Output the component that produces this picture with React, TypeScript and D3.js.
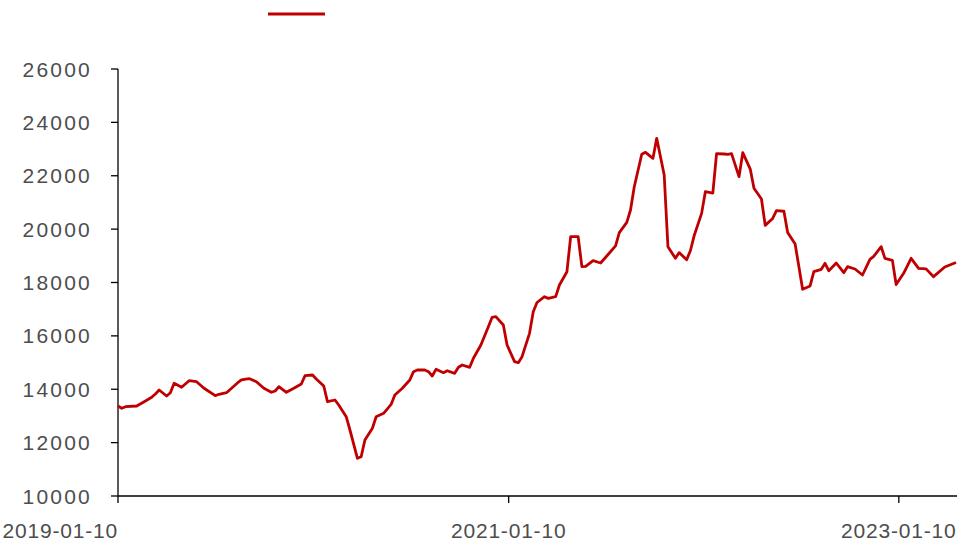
import React from "react";
import * as d3 from "d3";

const startDate = "2019-01-10";
const weekIdx = [
  0, 1, 2, 5, 7, 9, 10, 11, 13, 14, 15, 17, 19, 21, 23, 26, 27, 29, 32, 33, 35, 37, 39, 41, 42, 43, 45, 47, 49, 50,
  52, 53, 55, 56, 58, 59, 61, 62, 64, 65, 66, 68, 69, 71, 73, 74, 76, 78, 79, 80, 82, 83, 84, 85, 87, 88, 90, 91, 92, 94,
  95, 97, 99, 100, 101, 103, 104, 106, 107, 108, 110, 111, 112, 114, 115, 117, 118, 120, 121, 123, 124, 125, 127, 129, 131, 133, 134, 136, 137, 138,
  140, 141, 143, 144, 146, 147, 149, 150, 152, 153, 154, 156, 157, 159, 160, 162, 163, 164, 166, 167, 169, 170, 172, 173, 175, 176, 178, 179, 181, 183,
  185, 186, 188, 189, 190, 192, 194, 195, 197, 199, 201, 202, 204, 205, 207, 208, 210, 212, 214, 216, 218, 221, 224,
];
const values = [
  13372, 13286, 13346, 13372, 13533, 13698, 13822, 13972, 13747, 13871, 14223, 14073, 14320, 14283, 14036, 13759, 13811, 13871, 14246, 14347, 14400, 14283, 14036, 13886, 13934, 14095, 13886, 14036, 14197, 14508,
  14534, 14384, 14122, 13533, 13597, 13410, 12971, 12473, 11412, 11473, 12098, 12537, 12971, 13098, 13430, 13784, 14036, 14347, 14658, 14721, 14721, 14658, 14496, 14747, 14620, 14695, 14597, 14822, 14908, 14822,
  15160, 15658, 16344, 16696, 16720, 16407, 15658, 15033, 14995, 15220, 16096, 16906, 17250, 17468, 17406, 17468, 17906, 18405, 19716, 19716, 18592, 18605, 18820, 18730, 19050, 19370, 19870, 20250, 20716, 21590,
  22804, 22878, 22654, 23403, 22028, 19341, 18906, 19120, 18855, 19190, 19750, 20590, 21403, 21350, 22830, 22815, 22800, 22830, 21965, 22864, 22250, 21530, 21130, 20140, 20400, 20691, 20670, 19870, 19440, 17745,
  17870, 18405, 18494, 18718, 18440, 18730, 18367, 18592, 18506, 18281, 18868, 18980, 19341, 18906, 18830, 17925, 18344, 18906, 18531, 18510, 18218, 18580, 18750,
];
const yTicks = [10000, 12000, 14000, 16000, 18000, 20000, 22000, 24000, 26000];
const xTickLabels = ["2019-01-10", "2021-01-10", "2023-01-10"];

const W = 972;
const H = 545;

export default function App() {
  const parse = d3.utcParse("%Y-%m-%d");
  const start = parse(startDate) as Date;
  const data = weekIdx.map((w, i) => ({ date: d3.utcDay.offset(start, 7 * w), value: values[i] }));
  const last = data[data.length - 1].date;

  const x = d3.scaleUtc().domain([start, last]).range([118, 956]);
  const y = d3.scaleLinear().domain([10000, 26000]).range([496, 69]);

  const line = d3
    .line<{ date: Date; value: number }>()
    .x((d) => x(d.date))
    .y((d) => y(d.value));

  const fontFamily = "'Liberation Sans', Arial, sans-serif";
  const textColor = "#4d4d4d";

  return (
    <div>
      <style>{`body{margin:0}`}</style>
      <svg width={W} height={H} style={{ display: "block", background: "#fff" }}>
        {/* legend */}
        <line x1={268} x2={325} y1={14} y2={14} stroke="#C00000" strokeWidth={3} />

        {/* y axis */}
        <line x1={118} x2={118} y1={y(26000)} y2={y(10000)} stroke="#000" strokeWidth={1.3} />
        {yTicks.map((t) => (
          <g key={t}>
            <line x1={111} x2={118} y1={y(t)} y2={y(t)} stroke="#000" strokeWidth={1.3} />
            <text
              x={92}
              y={y(t)}
              dy="0.36em"
              textAnchor="end"
              fontFamily={fontFamily}
              fontSize={21}
              letterSpacing={2.2}
              fill={textColor}
            >
              {t}
            </text>
          </g>
        ))}

        {/* x axis */}
        <line x1={118} x2={957} y1={496} y2={496} stroke="#000" strokeWidth={1.3} />
        {xTickLabels.map((lbl, i) => {
          const tx = x(parse(lbl) as Date);
          return (
            <g key={lbl}>
              <line x1={tx} x2={tx} y1={496} y2={503} stroke="#000" strokeWidth={1.3} />
              <text
                x={tx}
                y={538}
                textAnchor={i === 0 ? "end" : "middle"}
                fontFamily={fontFamily}
                fontSize={21}
                letterSpacing={0.8}
                fill={textColor}
              >
                {lbl}
              </text>
            </g>
          );
        })}

        {/* series */}
        <path d={line(data) || ""} fill="none" stroke="#C00000" strokeWidth={2.8} strokeLinejoin="round" />
      </svg>
    </div>
  );
}
